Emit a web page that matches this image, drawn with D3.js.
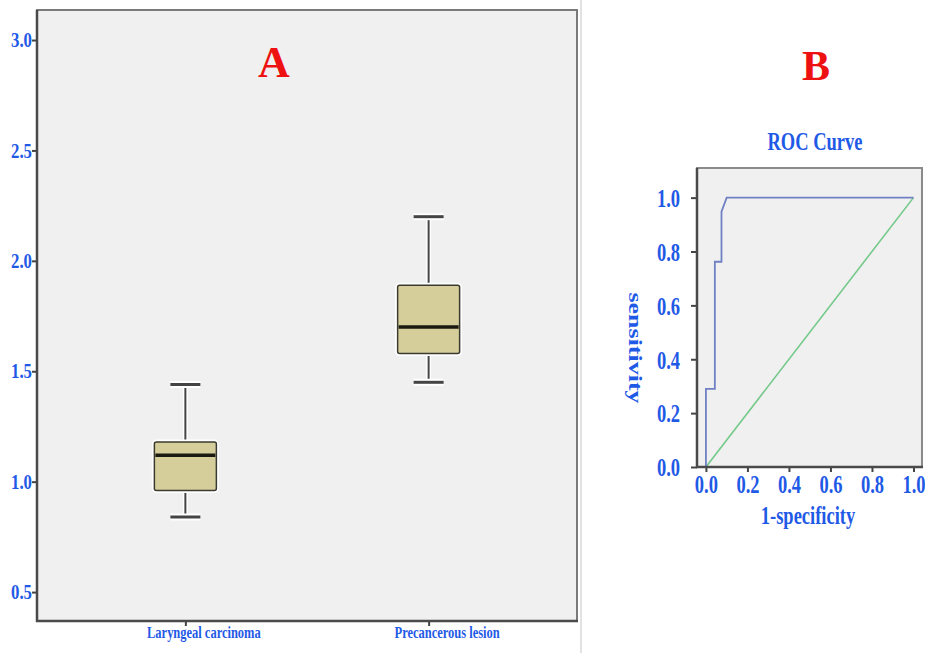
<!DOCTYPE html>
<html><head><meta charset="utf-8">
<script src="https://cdn.jsdelivr.net/npm/d3@7"></script>
<style>body{margin:0;background:#fff} svg{display:block}</style>
</head><body><svg id="c" width="925" height="653"></svg>
<script>
// ---- Panel A data (box plot) ----
const categories = ["Laryngeal carcinoma", "Precancerous lesion"];
const whiskerLow  = [0.84, 1.45];
const q1          = [0.96, 1.58];
const median      = [1.12, 1.70];
const q3          = [1.18, 1.89];
const whiskerHigh = [1.44, 2.20];
const boxTicks = [0.5, 1.0, 1.5, 2.0, 2.5, 3.0];

// ---- Panel B data (ROC) ----
const rocFpr = [0, 0, 0.043, 0.043, 0.075, 0.075, 0.10, 1.0];
const rocTpr = [0, 0.29, 0.29, 0.762, 0.762, 0.948, 1.0, 1.0];
const refFpr = [0, 1];
const refTpr = [0, 1];
const rocTicks = [0, 0.2, 0.4, 0.6, 0.8, 1.0];

const BLUE = "#1f5ae6";
const FONT = "'Liberation Serif','Times New Roman',serif";
const svg = d3.select("#c");

function sText(g, x, y, str, size, sx, anchor, rot, color) {
  const t = g.append("g").attr("transform", `translate(${x},${y}) scale(${sx},1)` + (rot ? ` rotate(${rot})` : ""))
    .append("text").text(str)
    .attr("font-family", FONT).attr("font-weight", "bold").attr("font-size", size)
    .attr("fill", color || BLUE).attr("text-anchor", anchor || "middle");
  return t;
}

// ================= Panel A =================
const A = {l: 37, t: 10, r: 577, b: 621};
svg.append("line").attr("x1", 581).attr("x2", 581).attr("y1", 0).attr("y2", 653)
  .attr("stroke", "#d8d8d8").attr("stroke-width", 1.5);
svg.append("rect").attr("x", A.l).attr("y", A.t).attr("width", A.r - A.l).attr("height", A.b - A.t)
  .attr("fill", "#f0f0f0").attr("stroke", "#7a7a7a").attr("stroke-width", 2);

const yA = d3.scaleLinear().domain([0.369, 3.136]).range([A.b, A.t]);
const xA = d3.scalePoint().domain(categories).range([A.l, A.r]).padding(0.61);

const gA = svg.append("g");
const boxes = categories.map((c, i) => ({c, lo: whiskerLow[i], q1: q1[i], med: median[i], q3: q3[i], hi: whiskerHigh[i]}));
const bw = 62, cw = 30;
boxes.forEach(d => {
  const cx = xA(d.c);
  const g = gA.append("g");
  [[d.hi, d.q3], [d.q1, d.lo]].forEach(([a, b]) => {
    g.append("line").attr("x1", cx).attr("x2", cx).attr("y1", yA(a)).attr("y2", yA(b))
      .attr("stroke", "#fff").attr("stroke-width", 5);
    g.append("line").attr("x1", cx).attr("x2", cx).attr("y1", yA(a)).attr("y2", yA(b))
      .attr("stroke", "#444").attr("stroke-width", 2);
  });
  [d.hi, d.lo].forEach(v => {
    g.append("line").attr("x1", cx - cw / 2).attr("x2", cx + cw / 2).attr("y1", yA(v)).attr("y2", yA(v))
      .attr("stroke", "#fff").attr("stroke-width", 7);
    g.append("line").attr("x1", cx - cw / 2).attr("x2", cx + cw / 2).attr("y1", yA(v)).attr("y2", yA(v))
      .attr("stroke", "#444").attr("stroke-width", 3);
  });
  g.append("rect").attr("x", cx - bw / 2).attr("y", yA(d.q3)).attr("width", bw).attr("height", yA(d.q1) - yA(d.q3))
    .attr("rx", 2).attr("fill", "none").attr("stroke", "#fff").attr("stroke-width", 5);
  g.append("rect").attr("x", cx - bw / 2).attr("y", yA(d.q3)).attr("width", bw).attr("height", yA(d.q1) - yA(d.q3))
    .attr("rx", 2).attr("fill", "#d5ce9a").attr("stroke", "#3a3a30").attr("stroke-width", 1.5);
  g.append("line").attr("x1", cx - bw / 2 + 1).attr("x2", cx + bw / 2 - 1).attr("y1", yA(d.med)).attr("y2", yA(d.med))
    .attr("stroke", "#1a1a10").attr("stroke-width", 3.5);
});

// axes A
const axA = svg.append("g").attr("transform", `translate(${A.l},0)`)
  .call(d3.axisLeft(yA).tickValues(boxTicks).tickFormat(d3.format(".1f")).tickSize(5));
axA.select(".domain").remove();
axA.selectAll("line").attr("stroke", "#444").attr("stroke-width", 2);
axA.selectAll("text").attr("x", -5 / 0.8).attr("transform", "scale(0.8,1)")
  .attr("font-family", FONT).attr("font-weight", "bold").attr("font-size", 21).attr("fill", BLUE);
svg.append("line").attr("x1", A.l).attr("x2", A.l).attr("y1", A.t).attr("y2", A.b + 1).attr("stroke", "#4a4a4a").attr("stroke-width", 2.5);

const axAx = svg.append("g").attr("transform", `translate(0,${A.b})`)
  .call(d3.axisBottom(xA).tickSize(5));
axAx.select(".domain").remove();
axAx.selectAll("line").attr("stroke", "#444").attr("stroke-width", 2);
axAx.selectAll("text").remove();
axAx.selectAll(".tick").each(function(d) {
  sText(d3.select(this), 18, 17, d, 16, 0.78, "middle");
});
svg.append("line").attr("x1", A.l - 1).attr("x2", A.r + 1).attr("y1", A.b).attr("y2", A.b).attr("stroke", "#4a4a4a").attr("stroke-width", 2.5);

sText(svg, 274, 77, "A", 44, 1, "middle", 0, "#ee1111");

// ================= Panel B =================
const B = {l: 697, t: 168, r: 922, b: 467};
svg.append("rect").attr("x", B.l).attr("y", B.t).attr("width", B.r - B.l).attr("height", B.b - B.t)
  .attr("fill", "#f0f0f0").attr("stroke", "#8a8a8a").attr("stroke-width", 2);

const xB = d3.scaleLinear().domain([-0.043, 1.041]).range([B.l, B.r]);
const yB = d3.scaleLinear().domain([0, 1.11]).range([B.b, B.t]);

const line = d3.line().x(d => xB(d[0])).y(d => yB(d[1]));
svg.append("path").datum(refFpr.map((v, i) => [v, refTpr[i]])).attr("d", line)
  .attr("fill", "none").attr("stroke", "#74c98a").attr("stroke-width", 1.6);
svg.append("path").datum(rocFpr.map((v, i) => [v, rocTpr[i]])).attr("d", line)
  .attr("fill", "none").attr("stroke", "#6f80c4").attr("stroke-width", 1.8);

const SX = 0.74;
const axBy = svg.append("g").attr("transform", `translate(${B.l},0)`)
  .call(d3.axisLeft(yB).tickValues(rocTicks).tickFormat(d3.format(".1f")).tickSize(6));
axBy.select(".domain").remove();
axBy.selectAll("line").attr("stroke", "#444").attr("stroke-width", 2);
axBy.selectAll("text").attr("x", -17 / SX).attr("dy", "0.35em").attr("transform", `scale(${SX},1)`)
  .attr("font-family", FONT).attr("font-weight", "bold").attr("font-size", 25).attr("fill", BLUE);

const axBx = svg.append("g").attr("transform", `translate(0,${B.b})`)
  .call(d3.axisBottom(xB).tickValues(rocTicks).tickFormat(d3.format(".1f")).tickSize(5));
axBx.select(".domain").remove();
axBx.selectAll("line").attr("stroke", "#444").attr("stroke-width", 2);
axBx.selectAll("text").attr("y", 26).attr("dy", "0").attr("transform", `scale(${SX},1)`)
  .attr("font-family", FONT).attr("font-weight", "bold").attr("font-size", 25).attr("fill", BLUE);

svg.append("line").attr("x1", B.l).attr("x2", B.l).attr("y1", B.t).attr("y2", B.b + 1).attr("stroke", "#4a4a4a").attr("stroke-width", 2.5);
svg.append("line").attr("x1", B.l - 1).attr("x2", B.r + 1).attr("y1", B.b).attr("y2", B.b).attr("stroke", "#4a4a4a").attr("stroke-width", 2.5);

sText(svg, 815, 150, "ROC Curve", 25, SX, "middle");
sText(svg, 808, 524, "1-specificity", 25, SX, "middle");
sText(svg, 629, 348, "sensitivity", 26, SX, "middle", 90);
sText(svg, 816, 80, "B", 42, 1, "middle", 0, "#ee1111");
</script></body></html>
